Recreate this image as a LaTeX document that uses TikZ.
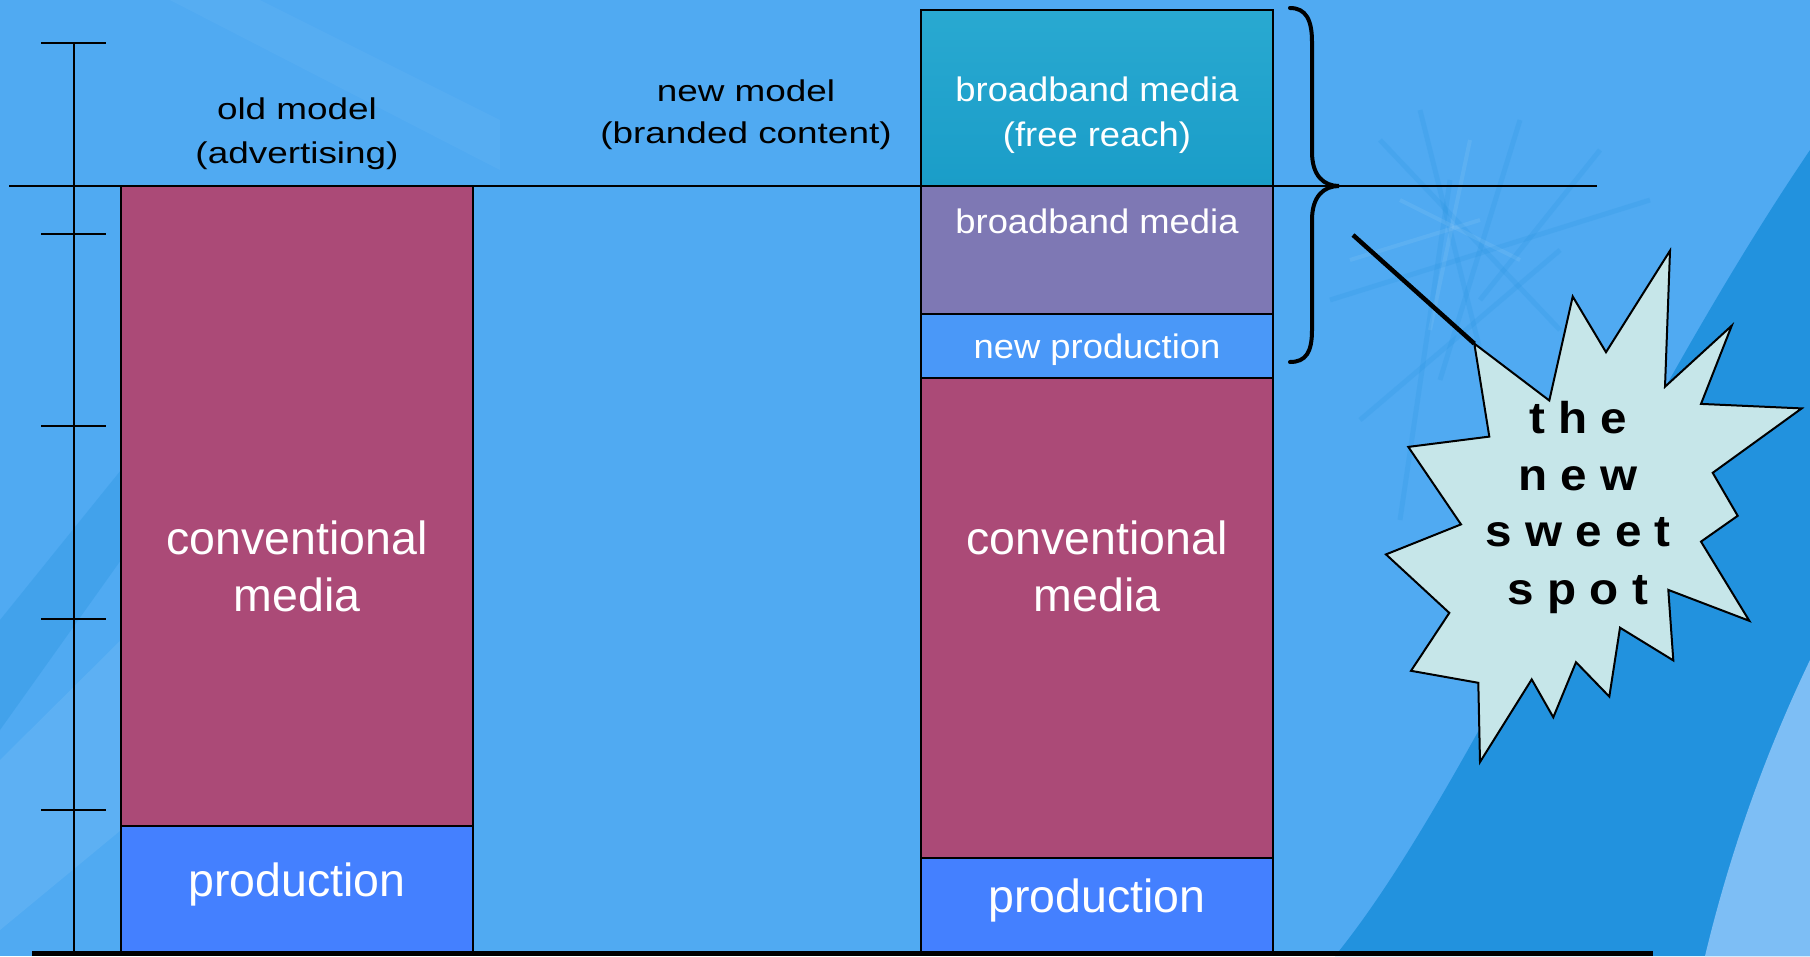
\documentclass[tikz,border=0pt]{standalone}
\usepackage{fontspec}
\setmainfont{Liberation Sans}
\newfontfamily\ttlfont[FakeStretch=1.23]{Liberation Sans}
\newfontfamily\bbfont[FakeStretch=1.07]{Liberation Sans}
\newfontfamily\starfont[FakeStretch=1.07]{Liberation Sans}
\definecolor{bgblue}{RGB}{80,170,242}
\definecolor{bgdark}{RGB}{34,146,222}
\definecolor{bglight}{RGB}{125,190,245}
\definecolor{convcol}{RGB}{171,74,119}
\definecolor{prodcol}{RGB}{68,128,255}
\definecolor{freecol}{RGB}{41,169,209}
\definecolor{freecoldark}{RGB}{26,157,200}
\definecolor{bbcol}{RGB}{126,120,180}
\definecolor{npcol}{RGB}{74,152,248}
\definecolor{starcol}{RGB}{198,230,233}
\begin{document}
\begin{tikzpicture}[x=1pt,y=-1pt,
  barbox/.style={draw=black, line width=2pt, inner sep=0pt, minimum width=352pt},
  ttl/.style={font=\ttlfont\fontsize{30}{36}\selectfont, text=black, anchor=base, inner sep=0pt},
  bbtxt/.style={font=\bbfont\fontsize{34}{40}\selectfont, text=white, anchor=base, inner sep=0pt},
  bigtxt/.style={font=\fontsize{46.5}{56}\selectfont, text=white, anchor=base, inner sep=0pt},
  startxt/.style={font=\starfont\bfseries\fontsize{44.5}{52}\selectfont, text=black, anchor=base, inner sep=0pt},
  thinline/.style={draw=black, line width=2pt},
]
\useasboundingbox (0,0) rectangle (1810,956);
% background
\fill[bgblue] (0,0) rectangle (1810,956);
\begin{scope}
\clip (0,0) rectangle (1810,956);
\fill[bgdark] (1335,956) .. controls (1470,790) and (1620,430) .. (1810,150) -- (1810,956) -- cycle;
\fill[bglight] (1705,956) .. controls (1728,860) and (1762,760) .. (1810,660) -- (1810,956) -- cycle;
\fill[bgdark, opacity=0.3] (0,620) -- (121,470) -- (121,560) -- (0,730) -- cycle;
\fill[white, opacity=0.08] (0,760) -- (121,640) -- (121,830) -- (0,930) -- cycle;
\fill[white, opacity=0.04] (170,0) -- (260,0) -- (500,120) -- (500,170) -- cycle;
\foreach \a/\b/\c/\d in {1380/140/1560/330, 1420/110/1500/430, 1330/300/1650/200, 1450/180/1400/520, 1520/120/1440/380, 1360/420/1560/250, 1600/150/1480/300}
  \draw[bgdark, opacity=0.18, line width=5pt] (\a,\b) -- (\c,\d);
\foreach \a/\b/\c/\d in {1400/200/1520/260, 1470/140/1430/330, 1350/260/1480/220}
  \draw[white, opacity=0.07, line width=4pt] (\a,\b) -- (\c,\d);
\end{scope}

% left column (old model)
\node[barbox, fill=convcol, minimum height=640pt] (convL) at (297,506) {};
\node[barbox, fill=prodcol, minimum height=126pt] (prodL) at (297,889) {};

% right column (new model)
\node[barbox, top color=freecol, bottom color=freecoldark, minimum height=176pt] (freeR) at (1097,98) {};
\node[barbox, fill=bbcol, minimum height=128pt] (bbR) at (1097,250) {};
\node[barbox, fill=npcol, minimum height=64pt] (npR) at (1097,346) {};
\node[barbox, fill=convcol, minimum height=480pt] (convR) at (1097,618) {};
\node[barbox, fill=prodcol, minimum height=94pt] (prodR) at (1097,905) {};

% axis
\coordinate (axtop) at (73.5,42.7);
\coordinate (axbot) at (73.5,951);
\draw[thinline] (axtop) -- (axbot);
\foreach \y in {42.7,234.3,426,618.7,810.3}
  \draw[thinline] (41,\y) -- (106,\y);

% reference line
\coordinate (hl1) at (9,186);
\coordinate (hl2) at (1597,186);
\draw[thinline] (hl1) -- (hl2);

% base line
\coordinate (bl1) at (32,953.5);
\coordinate (bl2) at (1653,953.5);
\draw[black, line width=5pt] (bl1) -- (bl2);

% titles
\node[ttl] (old1) at (297,119) {old model};
\node[ttl] (old2) at (297,163) {(advertising)};
\node[ttl] (new1) at (746,101) {new model};
\node[ttl] (new2) at (746,143) {(branded content)};

% box labels
\node[bbtxt] (fr1) at (1097,101.7) {broadband media};
\node[bbtxt] (fr2) at (1097,146.7) {(free reach)};
\node[bbtxt] (bb1) at (1097,233.3) {broadband media};
\node[bbtxt] (np1) at (1097,358.3) {new production};
\node[bigtxt] (cvL1) at (297,554) {conventional};
\node[bigtxt] (cvL2) at (297,611) {media};
\node[bigtxt] (cvR1) at (1097,554) {conventional};
\node[bigtxt] (cvR2) at (1097,611) {media};
\node[bigtxt] (prL) at (297,896) {production};
\node[bigtxt] (prR) at (1097,912.5) {production};

% brace
\draw[black, line width=4pt, line cap=round]
  (1290,8) .. controls (1306,8) and (1312,20) .. (1312,42)
  -- (1312,152) .. controls (1312,176) and (1324,186) .. (1339,186)
  .. controls (1324,186) and (1312,196) .. (1312,220)
  -- (1312,330) .. controls (1312,352) and (1306,362) .. (1290,362);

% star burst
\coordinate (tip) at (1474.3,343.6);
\filldraw[fill=starcol, draw=black, line width=2pt, line join=miter]
  (tip) -- (1549.3,400.5) -- (1572.7,296.5) -- (1606,352.2) -- (1670,250.7)
  -- (1665,386.7) -- (1731.7,325.7) -- (1701,403.9) -- (1801.7,408.4)
  -- (1712.7,472.8) -- (1737.7,515.8) -- (1701,541.6) -- (1749.3,620.8)
  -- (1668.3,589.9) -- (1673.3,660.4) -- (1620,627.7) -- (1609.3,696.6)
  -- (1576,662.2) -- (1553.3,717.3) -- (1531.7,679.4) -- (1480,762)
  -- (1478.3,682.8) -- (1411,670.8) -- (1449.3,612.9) -- (1386,554.4)
  -- (1461,524.4) -- (1408.3,446.9) -- (1489.3,436.6) -- cycle;
\coordinate (ptr) at (1353,235);
\draw[black, line width=4.5pt] (ptr) -- (tip);

\node[startxt] (s1) at (1578,433) {t h e};
\node[startxt] (s2) at (1578,490.7) {n e w};
\node[startxt] (s3) at (1578,546.8) {s w e e t};
\node[startxt] (s4) at (1578,604.7) {s p o t};
\end{tikzpicture}
\end{document}
